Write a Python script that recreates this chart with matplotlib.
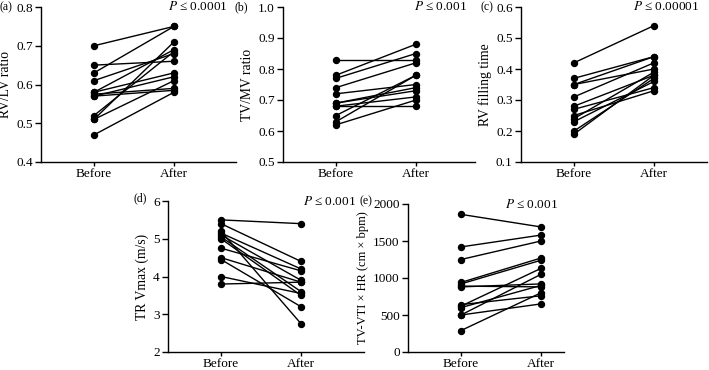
import numpy as np
import matplotlib
matplotlib.use("Agg")
import matplotlib.pyplot as plt

plt.rcParams['font.family'] = ['Liberation Serif', 'DejaVu Serif']
plt.rcParams['font.size'] = 9
plt.rcParams['mathtext.fontset'] = 'stix'

groups = ["Before", "After"]

before_a = [0.70, 0.65, 0.63, 0.61, 0.58, 0.58, 0.575, 0.57, 0.57, 0.52, 0.51, 0.51, 0.47]
after_a = [0.75, 0.66, 0.75, 0.68, 0.63, 0.69, 0.59, 0.62, 0.585, 0.685, 0.71, 0.61, 0.58]

before_b = [0.83, 0.78, 0.77, 0.74, 0.72, 0.69, 0.69, 0.68, 0.68, 0.65, 0.63, 0.62]
after_b = [0.83, 0.88, 0.85, 0.82, 0.75, 0.73, 0.74, 0.71, 0.68, 0.78, 0.78, 0.70]

before_c = [0.42, 0.37, 0.35, 0.35, 0.31, 0.28, 0.27, 0.25, 0.24, 0.23, 0.20, 0.19]
after_c = [0.54, 0.44, 0.44, 0.40, 0.42, 0.38, 0.34, 0.33, 0.39, 0.36, 0.37, 0.38]

before_d = [5.5, 5.4, 5.2, 5.15, 5.1, 5.05, 5.0, 4.75, 4.5, 4.45, 4.0, 3.8]
after_d = [5.4, 4.4, 2.75, 4.2, 3.9, 3.6, 3.5, 4.15, 3.85, 3.2, 3.55, 3.85]

before_e = [1860, 1420, 1250, 940, 920, 890, 880, 640, 620, 600, 500, 500, 290]
after_e = [1690, 1580, 1500, 1270, 1240, 880, 920, 760, 1130, 900, 1050, 650, 800]

panels = [
    dict(label="(a)", lab_dx=-29, lab_dy=0, ylabel="RV/LV ratio", ysize=9.8, p="0.0001",
         before=before_a, after=after_a,
         ylim=(0.4, 0.8), ticks=[0.4, 0.5, 0.6, 0.7, 0.8], fmt="{:.1f}",
         rect=[41 / 709, 1 - 162 / 370, 195 / 709, 155 / 370]),
    dict(label="(b)", lab_dx=-35, lab_dy=0, ylabel="TV/MV ratio", ysize=9.8, p="0.001",
         before=before_b, after=after_b,
         ylim=(0.5, 1.0), ticks=[0.5, 0.6, 0.7, 0.8, 0.9, 1.0], fmt="{:.1f}",
         rect=[283 / 709, 1 - 162 / 370, 192 / 709, 155 / 370]),
    dict(label="(c)", lab_dx=-28, lab_dy=0, ylabel="RV filling time", ysize=9.8, p="0.00001",
         before=before_c, after=after_c,
         ylim=(0.1, 0.6), ticks=[0.1, 0.2, 0.3, 0.4, 0.5, 0.6], fmt="{:.1f}",
         rect=[521 / 709, 1 - 162 / 370, 186 / 709, 155 / 370]),
    dict(label="(d)", lab_dx=-21, lab_dy=2, ylabel="TR Vmax (m/s)", ysize=9.8, p="0.001",
         before=before_d, after=after_d,
         ylim=(2, 6), ticks=[2, 3, 4, 5, 6], fmt="{:d}",
         rect=[168 / 709, 1 - 352 / 370, 196 / 709, 151 / 370]),
    dict(label="(e)", lab_dx=-36, lab_dy=2, ylabel="TV-VTI \u00d7 HR (cm \u00d7 bpm)", ysize=9.0, p="0.001",
         before=before_e, after=after_e,
         ylim=(0, 2000), ticks=[0, 500, 1000, 1500, 2000], fmt="{:d}",
         rect=[408 / 709, 1 - 352 / 370, 156 / 709, 148 / 370]),
]

fig = plt.figure(figsize=(7.09, 3.70), dpi=100)

for pn in panels:
    ax = fig.add_axes(pn["rect"])
    w_px = pn["rect"][2] * 709
    # categories sit ~53px and ~133px from the left spine
    ax.set_xlim(-53 / 80, (w_px - 53) / 80)
    for b, a in zip(pn["before"], pn["after"]):
        ax.plot([0, 1], [b, a], color="black", lw=1.0, marker="o", ms=4.3,
                solid_capstyle="butt", clip_on=False)
    ax.set_ylim(*pn["ylim"])
    ax.set_yticks(pn["ticks"])
    ax.set_yticklabels([pn["fmt"].format(t) for t in pn["ticks"]])
    ax.set_xticks([0, 1])
    ax.set_xticklabels(groups)
    ax.set_ylabel(pn["ylabel"], labelpad=3, fontsize=pn["ysize"])
    for s in ["top", "right"]:
        ax.spines[s].set_visible(False)
    for s in ["left", "bottom"]:
        ax.spines[s].set_linewidth(1.0)
    ax.tick_params(direction="out", length=4, width=1.0, pad=2, labelsize=9.5)
    ax.tick_params(axis="x", length=3, pad=1)
    ax.text(0.96, 1.0, r"$P$ " + "\u2264 " + pn["p"], transform=ax.transAxes,
            ha="right", va="center", fontsize=9.5)
    ax.annotate(pn["label"], xy=(0, 1), xycoords="axes fraction",
                xytext=(pn["lab_dx"] * 0.72, pn["lab_dy"]), textcoords="offset points",
                ha="right", va="center", fontsize=8.5)

fig.savefig("out.png", dpi=100)
